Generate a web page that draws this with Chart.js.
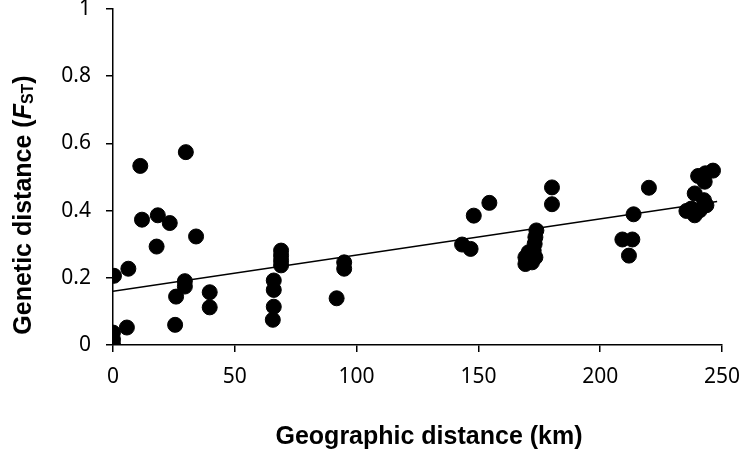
<!DOCTYPE html>
<html>
<head>
<meta charset="utf-8">
<script src="https://cdn.jsdelivr.net/npm/chart.js@4.4.1/dist/chart.umd.min.js"></script>
<style>
  html, body { margin: 0; padding: 0; background: #fff; }
  #wrap { width: 740px; height: 452px; position: relative; }
</style>
</head>
<body>
<div id="wrap"><canvas id="ibd"></canvas></div>
<script>
// pairwise geographic distance (km) vs FST
const distKm = [
  29.9, 11.2, 11.9, 18.4, 23.3, 34.1, 17.9, 6.3, 0.4, 29.5, 29.5, 25.9, 39.7, 39.7, 25.5, 5.7, 0, 0, 0,
  69, 69, 69, 69, 66, 66, 66, 65.6, 94.9, 94.9, 91.8,
  180.2, 180.2, 154.5, 148.1, 143.3, 146.8, 173.8, 173.4, 173.1, 172.7, 170.6, 173.4, 169.3, 169.3, 172,
  220, 213.7, 209.1, 213.2, 211.8, 246.3, 243.2, 240.2, 242.9, 238.8, 242.6, 243.6, 237.4, 235.4, 238.8, 240.9
];
const fst = [
  0.574, 0.533, 0.373, 0.386, 0.363, 0.323, 0.293, 0.227, 0.206, 0.19, 0.174, 0.144, 0.157, 0.112, 0.06, 0.052, 0.037, 0.017, 0.002,
  0.281, 0.266, 0.251, 0.237, 0.192, 0.164, 0.114, 0.075, 0.246, 0.227, 0.139,
  0.469, 0.419, 0.423, 0.385, 0.299, 0.286, 0.341, 0.321, 0.301, 0.281, 0.276, 0.261, 0.261, 0.241, 0.246,
  0.468, 0.389, 0.314, 0.314, 0.266, 0.519, 0.511, 0.503, 0.486, 0.451, 0.431, 0.416, 0.406, 0.399, 0.386, 0.401
];
// linear fit shown in the figure (end points)
const trendX = [0, 248];
const trendY = [0.16, 0.427];

const xTicks = [0, 50, 100, 150, 200, 250];
const yTicks = [0, 0.2, 0.4, 0.6, 0.8, 1];
const yTickLabels = ['0', '0.2', '0.4', '0.6', '0.8', '1'];

const tickFont = { family: "'Noto Sans', 'Open Sans', sans-serif", size: 21 };
const boldFace = "'Liberation Sans', Arial, sans-serif";

// axis titles drawn by hand so the y title can have an italic F and subscript ST
const titlesPlugin = {
  id: 'axisTitles',
  afterDraw(chart) {
    const ctx = chart.ctx;
    const area = chart.chartArea;
    ctx.save();
    ctx.fillStyle = '#000';
    ctx.textBaseline = 'middle';

    ctx.font = 'bold 25px ' + boldFace;
    ctx.textAlign = 'center';
    ctx.fillText('Geographic distance (km)', 429, 437);

    // y title, rotated
    const parts = [
      { t: 'Genetic distance (', f: 'bold 25px ' + boldFace, dy: 0 },
      { t: 'F', f: 'italic bold 25px ' + boldFace, dy: 0 },
      { t: 'ST', f: 'bold 16px ' + boldFace, dy: 5 },
      { t: ')', f: 'bold 25px ' + boldFace, dy: 0 }
    ];
    let total = 0;
    parts.forEach(p => { ctx.font = p.f; p.w = ctx.measureText(p.t).width; total += p.w; });
    ctx.translate(24, 205);
    ctx.rotate(-Math.PI / 2);
    ctx.textAlign = 'left';
    let pos = -total / 2;
    parts.forEach(p => {
      ctx.font = p.f;
      ctx.fillText(p.t, pos, p.dy);
      pos += p.w;
    });
    ctx.restore();
  }
};

function initChart() {
  const pts = distKm.map((x, i) => ({ x: x, y: fst[i] }));
  const trend = trendX.map((x, i) => ({ x: x, y: trendY[i] }));

  new Chart(document.getElementById('ibd'), {
    type: 'scatter',
    data: {
      datasets: [
        { data: trend, type: 'line', borderColor: '#000', borderWidth: 1.5, pointRadius: 0, fill: false, order: 2 },
        { data: pts, backgroundColor: '#000', borderColor: '#000', pointRadius: 7.5, pointHoverRadius: 7.5, order: 1 }
      ]
    },
    options: {
      responsive: true,
      maintainAspectRatio: false,
      animation: false,
      layout: { padding: { top: 9, right: 18, left: 0, bottom: 0 } },
      plugins: { legend: { display: false }, tooltip: { enabled: false } },
      scales: {
        x: {
          type: 'linear', min: 0, max: 250,
          afterBuildTicks: s => { s.ticks = xTicks.map(v => ({ value: v })); },
          afterFit: s => { s.height = 107; s.paddingLeft = 0; s.paddingRight = 0; },
          ticks: { color: '#000', font: tickFont, padding: 12, maxRotation: 0 },
          grid: { display: true, drawOnChartArea: false, drawTicks: true, tickLength: 7, color: '#000', lineWidth: 1.5 },
          border: { display: true, color: '#000', width: 1.5 }
        },
        y: {
          type: 'linear', min: 0, max: 1,
          afterBuildTicks: s => { s.ticks = yTicks.map(v => ({ value: v })); },
          afterFit: s => { s.width = 113; s.paddingTop = 0; s.paddingBottom = 0; },
          ticks: { color: '#000', font: tickFont, padding: 15,
                   callback: (v, i) => yTickLabels[i] },
          grid: { display: true, drawOnChartArea: false, drawTicks: true, tickLength: 7, color: '#000', lineWidth: 1.5 },
          border: { display: true, color: '#000', width: 1.5 }
        }
      }
    },
    plugins: [titlesPlugin]
  });
}

window.onload = initChart;
</script>
</body>
</html>
